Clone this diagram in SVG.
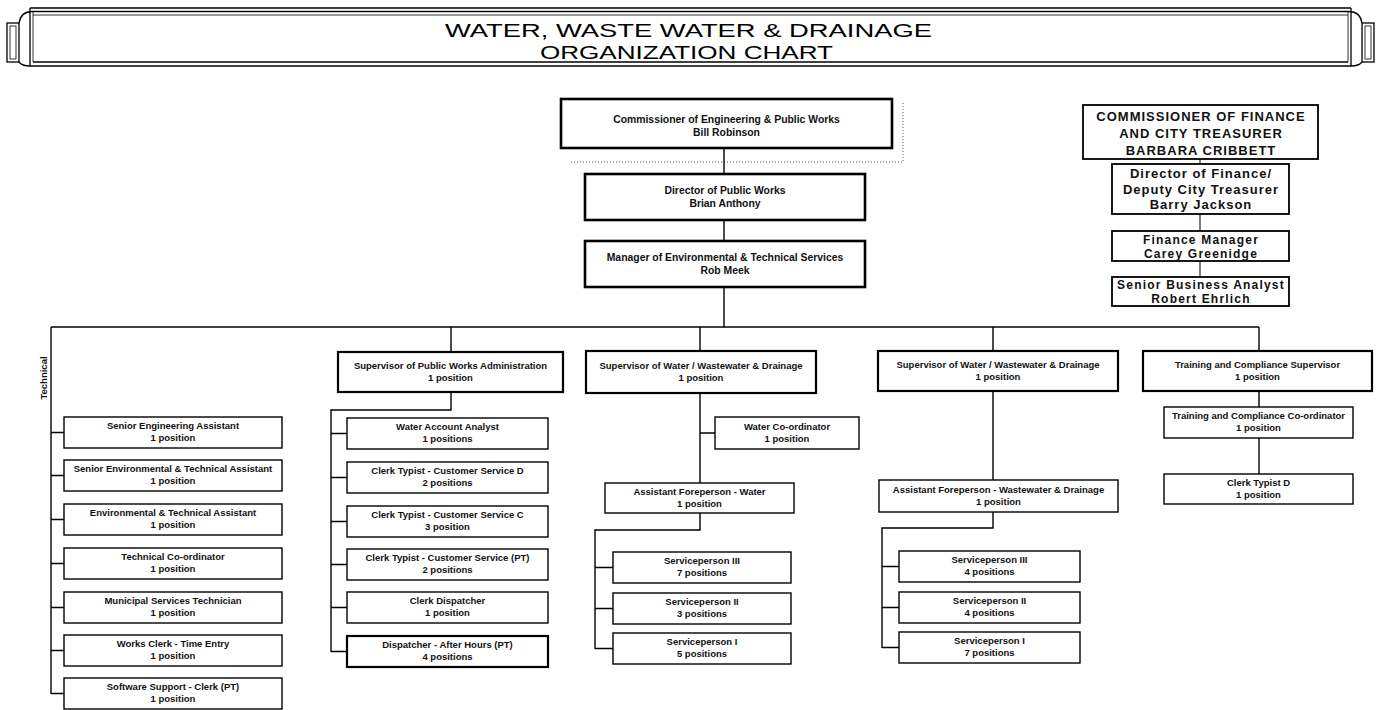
<svg xmlns="http://www.w3.org/2000/svg" width="1381" height="710" viewBox="0 0 1381 710">
<style>
.bg{fill:#fff}
.ban{fill:none;stroke:#000;stroke-width:1.3}
.ban2{fill:none;stroke:#000;stroke-width:0.8}
.title{font-family:"Liberation Sans",Arial,sans-serif;font-size:19px;fill:#000;text-anchor:middle}
.b1{fill:#fff;stroke:#000;stroke-width:2.6}
.b2{fill:#fff;stroke:#000;stroke-width:2.2}
.b3{fill:#fff;stroke:#000;stroke-width:1.4}
.bf{fill:#fff;stroke:#000;stroke-width:1.8}
.t1{font-family:"Liberation Sans",Arial,sans-serif;font-size:10.4px;font-weight:bold;fill:#111;text-anchor:middle}
.t2{font-family:"Liberation Sans",Arial,sans-serif;font-size:9.5px;font-weight:bold;fill:#111;text-anchor:middle}
.tf{font-family:"Liberation Sans",Arial,sans-serif;font-size:13px;font-weight:bold;letter-spacing:1px;fill:#111;text-anchor:middle}
.tg{font-family:"Liberation Sans",Arial,sans-serif;font-size:12px;font-weight:bold;letter-spacing:1.2px;fill:#111;text-anchor:middle}
.c{fill:none;stroke:#000;stroke-width:1.4}
.cf{fill:none;stroke:#000;stroke-width:1}
.dot{fill:none;stroke:#555;stroke-width:1;stroke-dasharray:1 2}
</style>
<rect class="bg" x="0" y="0" width="1381" height="710"/>

<g id="banner">
  <path class="ban" d="M30,8 H1351 M30,66 H1351"/>
  <path class="ban" d="M33,11.5 H1348 M33,62 H1348" stroke-width="1.6"/>
  <path class="ban2" d="M33,15 H1348"/>
  <path class="ban" d="M30,8 V66 M1351,8 V66"/>
  <path class="ban2" d="M33,11.5 V62 M1348,11.5 V62"/>
  <rect class="ban" x="7" y="23" width="12" height="39"/>
  <rect class="ban2" x="10" y="26" width="6" height="33"/>
  <path class="ban" d="M19,23 Q21,11 33,11.5 M19,62 Q22,66 30,66"/>
  <rect class="ban" x="1362" y="23" width="12" height="39"/>
  <rect class="ban2" x="1365" y="26" width="6" height="33"/>
  <path class="ban" d="M1362,23 Q1360,11 1348,11.5 M1362,62 Q1359,66 1351,66"/>
  <text class="title" x="688.5" y="37" textLength="487" lengthAdjust="spacingAndGlyphs">WATER, WASTE WATER &amp; DRAINAGE</text>
  <text class="title" x="686.5" y="59" textLength="293" lengthAdjust="spacingAndGlyphs">ORGANIZATION CHART</text>
</g>

<g id="connectors">
  <path class="dot" d="M571,162 H903 V103"/>
  <path class="c" d="M724,148 V174 M724,220 V241 M724,287 V327"/>
  <path class="c" d="M51,327 H1259"/>
  <path class="c" d="M51,327 V694 M51,432.5 H64 M51,475.5 H64 M51,519.5 H64 M51,563.5 H64 M51,607.5 H64 M51,650.5 H64 M51,693.5 H64"/>
  <path class="c" d="M451,327 V352 M451,392 V410 H331 V652 M331,433.5 H347 M331,477.5 H347 M331,521.5 H347 M331,564.5 H347 M331,607.5 H347 M331,651.5 H347"/>
  <path class="c" d="M700,327 V351 M700,393 V483 M700,433 H715 M700,513 V530 H595 V649 M595,567.5 H613 M595,608.5 H613 M595,648.5 H613"/>
  <path class="c" d="M993,327 V351 M993,391 V480 M993,512 V528 H882 V648 M882,566.5 H899 M882,607.5 H899 M882,647.5 H899"/>
  <path class="c" d="M1259,327 V351 M1259,391 V407 M1259,438 V474"/>
  <path class="cf" d="M1200,159 V164 M1200,214 V231 M1200,261 V277"/>
</g>

<g id="commissioner">
  <rect class="b1" x="561" y="99" width="331" height="49"/>
  <text class="t1" x="726.5" y="123">Commissioner of Engineering &amp; Public Works</text>
  <text class="t1" x="726.5" y="136">Bill Robinson</text>
</g>
<g id="director">
  <rect class="b1" x="585" y="174" width="280" height="46"/>
  <text class="t1" x="725" y="194">Director of Public Works</text>
  <text class="t1" x="725" y="207">Brian Anthony</text>
</g>
<g id="manager">
  <rect class="b1" x="585" y="241" width="280" height="46"/>
  <text class="t1" x="725" y="261">Manager of Environmental &amp; Technical Services</text>
  <text class="t1" x="725" y="274">Rob Meek</text>
</g>

<g id="fin-commissioner">
  <rect class="bf" x="1083" y="105" width="235" height="54"/>
  <text class="tf" x="1201" y="121">COMMISSIONER OF FINANCE</text>
  <text class="tf" x="1201" y="138">AND CITY TREASURER</text>
  <text class="tf" x="1201" y="155">BARBARA CRIBBETT</text>
</g>
<g id="fin-director">
  <rect class="bf" x="1112" y="164" width="177" height="50"/>
  <text class="tf" x="1201" y="178">Director of Finance/</text>
  <text class="tf" x="1201" y="194">Deputy City Treasurer</text>
  <text class="tf" x="1201" y="209">Barry Jackson</text>
</g>
<g id="fin-manager">
  <rect class="bf" x="1112" y="231" width="177" height="30"/>
  <text class="tg" x="1201" y="243.5">Finance Manager</text>
  <text class="tg" x="1201" y="257.5">Carey Greenidge</text>
</g>
<g id="fin-analyst">
  <rect class="bf" x="1112" y="277" width="177" height="29"/>
  <text class="tg" x="1201" y="289">Senior Business Analyst</text>
  <text class="tg" x="1201" y="303">Robert Ehrlich</text>
</g>

<g id="technical-label">
  <text class="t2" x="47" y="378" transform="rotate(-90 47 378)">Technical</text>
</g>

<g id="tech-1"><rect class="b3" x="64" y="417" width="218" height="31"/><text class="t2" x="173" y="429">Senior Engineering Assistant</text><text class="t2" x="173" y="441">1 position</text></g>
<g id="tech-2"><rect class="b3" x="64" y="460" width="218" height="31"/><text class="t2" x="173" y="472">Senior Environmental &amp; Technical Assistant</text><text class="t2" x="173" y="484">1 position</text></g>
<g id="tech-3"><rect class="b3" x="64" y="504" width="218" height="31"/><text class="t2" x="173" y="516">Environmental &amp; Technical Assistant</text><text class="t2" x="173" y="528">1 position</text></g>
<g id="tech-4"><rect class="b3" x="64" y="548" width="218" height="31"/><text class="t2" x="173" y="560">Technical Co-ordinator</text><text class="t2" x="173" y="572">1 position</text></g>
<g id="tech-5"><rect class="b3" x="64" y="592" width="218" height="31"/><text class="t2" x="173" y="604">Municipal Services Technician</text><text class="t2" x="173" y="616">1 position</text></g>
<g id="tech-6"><rect class="b3" x="64" y="635" width="218" height="31"/><text class="t2" x="173" y="647">Works Clerk - Time Entry</text><text class="t2" x="173" y="659">1 position</text></g>
<g id="tech-7"><rect class="b3" x="64" y="678" width="218" height="31"/><text class="t2" x="173" y="690">Software Support - Clerk  (PT)</text><text class="t2" x="173" y="702">1 position</text></g>

<g id="sup-admin"><rect class="b2" x="338" y="352" width="225" height="40"/><text class="t2" x="450.5" y="369">Supervisor of Public Works Administration</text><text class="t2" x="450.5" y="381">1 position</text></g>
<g id="admin-1"><rect class="b3" x="347" y="418" width="201" height="31"/><text class="t2" x="447.5" y="430">Water Account Analyst</text><text class="t2" x="447.5" y="442">1 positions</text></g>
<g id="admin-2"><rect class="b3" x="347" y="462" width="201" height="31"/><text class="t2" x="447.5" y="474">Clerk Typist - Customer Service D</text><text class="t2" x="447.5" y="486">2 positions</text></g>
<g id="admin-3"><rect class="b3" x="347" y="506" width="201" height="31"/><text class="t2" x="447.5" y="518">Clerk Typist - Customer Service C</text><text class="t2" x="447.5" y="530">3 position</text></g>
<g id="admin-4"><rect class="b3" x="347" y="549" width="201" height="31"/><text class="t2" x="447.5" y="561">Clerk Typist - Customer Service (PT)</text><text class="t2" x="447.5" y="573">2 positions</text></g>
<g id="admin-5"><rect class="b3" x="347" y="592" width="201" height="31"/><text class="t2" x="447.5" y="604">Clerk Dispatcher</text><text class="t2" x="447.5" y="616">1 position</text></g>
<g id="admin-6"><rect class="b2" x="347" y="636" width="201" height="31"/><text class="t2" x="447.5" y="648">Dispatcher - After Hours (PT)</text><text class="t2" x="447.5" y="660">4 positions</text></g>

<g id="sup-water"><rect class="b2" x="586" y="351" width="230" height="42"/><text class="t2" x="701" y="369">Supervisor of Water / Wastewater &amp; Drainage</text><text class="t2" x="701" y="381">1 position</text></g>
<g id="water-coord"><rect class="b3" x="715" y="417" width="144" height="32"/><text class="t2" x="787" y="430">Water Co-ordinator</text><text class="t2" x="787" y="442">1 position</text></g>
<g id="water-asst"><rect class="b3" x="605" y="483" width="189" height="30"/><text class="t2" x="699.5" y="495">Assistant Foreperson - Water</text><text class="t2" x="699.5" y="507">1 position</text></g>
<g id="water-s3"><rect class="b3" x="613" y="552" width="178" height="31"/><text class="t2" x="702" y="564">Serviceperson III</text><text class="t2" x="702" y="576">7 positions</text></g>
<g id="water-s2"><rect class="b3" x="613" y="593" width="178" height="31"/><text class="t2" x="702" y="605">Serviceperson II</text><text class="t2" x="702" y="617">3 positions</text></g>
<g id="water-s1"><rect class="b3" x="613" y="633" width="178" height="31"/><text class="t2" x="702" y="645">Serviceperson I</text><text class="t2" x="702" y="657">5 positions</text></g>

<g id="sup-waste"><rect class="b2" x="878" y="351" width="240" height="40"/><text class="t2" x="998" y="368">Supervisor of Water / Wastewater &amp; Drainage</text><text class="t2" x="998" y="380">1 position</text></g>
<g id="waste-asst"><rect class="b3" x="879" y="480" width="239" height="32"/><text class="t2" x="998.5" y="493">Assistant Foreperson - Wastewater &amp; Drainage</text><text class="t2" x="998.5" y="505">1 position</text></g>
<g id="waste-s3"><rect class="b3" x="899" y="551" width="181" height="31"/><text class="t2" x="989.5" y="563">Serviceperson III</text><text class="t2" x="989.5" y="575">4 positions</text></g>
<g id="waste-s2"><rect class="b3" x="899" y="592" width="181" height="31"/><text class="t2" x="989.5" y="604">Serviceperson II</text><text class="t2" x="989.5" y="616">4 positions</text></g>
<g id="waste-s1"><rect class="b3" x="899" y="632" width="181" height="31"/><text class="t2" x="989.5" y="644">Serviceperson I</text><text class="t2" x="989.5" y="656">7 positions</text></g>

<g id="sup-training"><rect class="b2" x="1143" y="351" width="229" height="40"/><text class="t2" x="1257.5" y="368">Training and Compliance Supervisor</text><text class="t2" x="1257.5" y="380">1 position</text></g>
<g id="training-coord"><rect class="b3" x="1164" y="407" width="189" height="31"/><text class="t2" x="1258.5" y="419">Training and Compliance Co-ordinator</text><text class="t2" x="1258.5" y="431">1 position</text></g>
<g id="clerk-d"><rect class="b3" x="1164" y="474" width="189" height="30"/><text class="t2" x="1258.5" y="486">Clerk Typist D</text><text class="t2" x="1258.5" y="498">1 position</text></g>
</svg>
